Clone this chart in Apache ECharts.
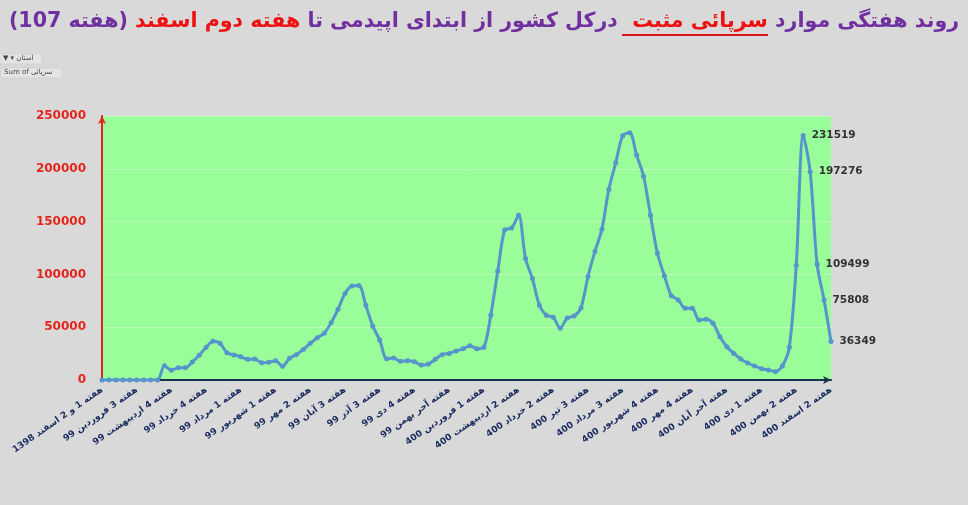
<!DOCTYPE html>
<html>
<head>
<meta charset="utf-8">
<script src="https://cdn.jsdelivr.net/npm/echarts@6/dist/echarts.min.js"></script>
<style>
  html, body { margin: 0; padding: 0; background: #d9d9d9; }
  #chart { width: 968px; height: 505px; }
</style>
</head>
<body>
<div id="chart"></div>
<script>
// labels shown under the axis, one for every 5th week
const tickLabels = [
  "هفته 1 و 2 اسفند 1398", "هفته 3 فروردین 99", "هفته 4 اردیبهشت 99", "هفته 4 خرداد 99",
  "هفته 1 مرداد 99", "هفته 1 شهریور 99", "هفته 2 مهر 99", "هفته 3 آبان 99",
  "هفته 3 آذر 99", "هفته 4 دی 99", "هفته آخر بهمن 99", "هفته 1 فروردین 400",
  "هفته 2 اردیبهشت 400", "هفته 2 خرداد 400", "هفته 3 تیر 400", "هفته 3 مرداد 400",
  "هفته 4 شهریور 400", "هفته 4 مهر 400", "هفته آخر آبان 400", "هفته 1 دی 400",
  "هفته 2 بهمن 400", "هفته 2 اسفند 400"
];

// weekly positive outpatient cases
const values = [
  0, 0, 0, 0, 0, 0, 0, 0, 0, 13500,
  9200, 11700, 11700, 17000, 23400, 31000, 36600, 34700, 25900, 23700,
  22000, 19600, 19900, 16400, 16700, 18300, 13000, 20500, 24000, 29000,
  34700, 40000, 44200, 54300, 67000, 82000, 89000, 89600, 70700, 51000,
  37900, 20200, 20800, 17700, 18300, 17400, 14200, 15100, 19600, 24000,
  25200, 27500, 29500, 32500, 29700, 31000, 61500, 103000, 142000, 144000,
  156000, 115000, 96000, 70700, 61300, 59400, 49000, 58700, 60600, 68500,
  98000, 121800, 142700, 180500, 205800, 231400, 234200, 213000, 193000, 156000,
  120000, 98800, 79900, 75800, 67900, 67900, 56800, 57500, 53700, 41000,
  31500, 25200, 19900, 16100, 13300, 10700, 9500, 7900, 13300, 31000,
  108600, 231519, 197276, 109499, 75808, 36349
];

const labelStep = 5;       // one axis label every 5 weeks
const labelledLast = 5;    // value labels on the last 5 weeks

// first point covers weeks 1 and 2, so point i is week i + 2
const categories = values.map((v, i) =>
  i % labelStep === 0 ? tickLabels[i / labelStep] : "هفته " + (i + 2)
);

const seriesData = values.map((v, i) =>
  i >= values.length - labelledLast ? { value: v, label: { show: true } } : v
);

const chart = echarts.init(document.getElementById("chart"));

chart.setOption({
  backgroundColor: "#d9d9d9",
  animation: false,
  title: {
    left: "center",
    top: 6,
    text: "{p|(هفته 107)} {r|هفته دوم اسفند} {p|درکل کشور از ابتدای اپیدمی تا}  {r|سرپائی مثبت} {p|روند هفتگی موارد}",
    textStyle: {
      fontFamily: "DejaVu Sans",
      fontSize: 20.6,
      fontWeight: "bold",
      color: "#7030a0",
      rich: {
        p: { fontFamily: "DejaVu Sans", fontSize: 20.6, fontWeight: "bold", color: "#7030a0" },
        r: { fontFamily: "DejaVu Sans", fontSize: 20.6, fontWeight: "bold", color: "#ee1111" }
      }
    }
  },
  graphic: [
    // underline under the red phrase
    { type: "line", shape: { x1: 622, y1: 35, x2: 768, y2: 35 }, style: { stroke: "#d81818", lineWidth: 2 } },
    // pivot field buttons
    { type: "rect", shape: { x: 0, y: 54, width: 42, height: 10 }, style: { fill: "#e4e4e4", stroke: "#c4c4c4", lineWidth: 0.5 } },
    { type: "text", x: 3, y: 55, style: { text: "▼ ▾ استان", fontSize: 7, fill: "#444", fontFamily: "DejaVu Sans" } },
    { type: "rect", shape: { x: 1, y: 68, width: 61, height: 10 }, style: { fill: "#e4e4e4", stroke: "#c4c4c4", lineWidth: 0.5 } },
    { type: "text", x: 4, y: 69, style: { text: "Sum of سرپائی", fontSize: 7, fill: "#444", fontFamily: "DejaVu Sans" } }
  ],
  grid: {
    left: 102,
    right: 137,
    top: 116,
    bottom: 125,
    outerBoundsMode: "none",
    containLabel: false,
    show: true,
    backgroundColor: "#99fd99",
    borderWidth: 0
  },
  xAxis: {
    type: "category",
    data: categories,
    boundaryGap: false,
    axisLine: {
      lineStyle: { color: "#17324a", width: 2 },
      symbol: ["none", "arrow"],
      symbolSize: [6, 8]
    },
    axisTick: { show: false },
    axisLabel: {
      interval: labelStep - 1,
      rotate: 35,
      margin: 9,
      color: "#1a2b5f",
      fontFamily: "DejaVu Sans",
      fontSize: 9,
      fontWeight: "bold"
    },
    splitLine: { show: false }
  },
  yAxis: {
    type: "value",
    min: 0,
    max: 250000,
    interval: 50000,
    axisLine: {
      show: true,
      lineStyle: { color: "#e3251b", width: 2 },
      symbol: ["none", "arrow"],
      symbolSize: [6, 8]
    },
    axisTick: { show: false },
    axisLabel: {
      margin: 16,
      color: "#e3251b",
      fontFamily: "DejaVu Sans",
      fontSize: 12,
      fontWeight: "bold",
      formatter: (v) => String(v)
    },
    splitLine: { lineStyle: { color: "rgba(255,255,255,0.35)", width: 1 } }
  },
  series: [{
    type: "line",
    data: seriesData,
    smooth: 0.3,
    symbol: "circle",
    symbolSize: 5,
    showAllSymbol: true,
    lineStyle: { color: "#5694cc", width: 3 },
    itemStyle: { color: "#5694cc" },
    label: {
      show: false,
      position: "right",
      distance: 6,
      color: "#333",
      fontFamily: "DejaVu Sans",
      fontSize: 10.5,
      fontWeight: "bold"
    }
  }]
});
</script>
</body>
</html>
